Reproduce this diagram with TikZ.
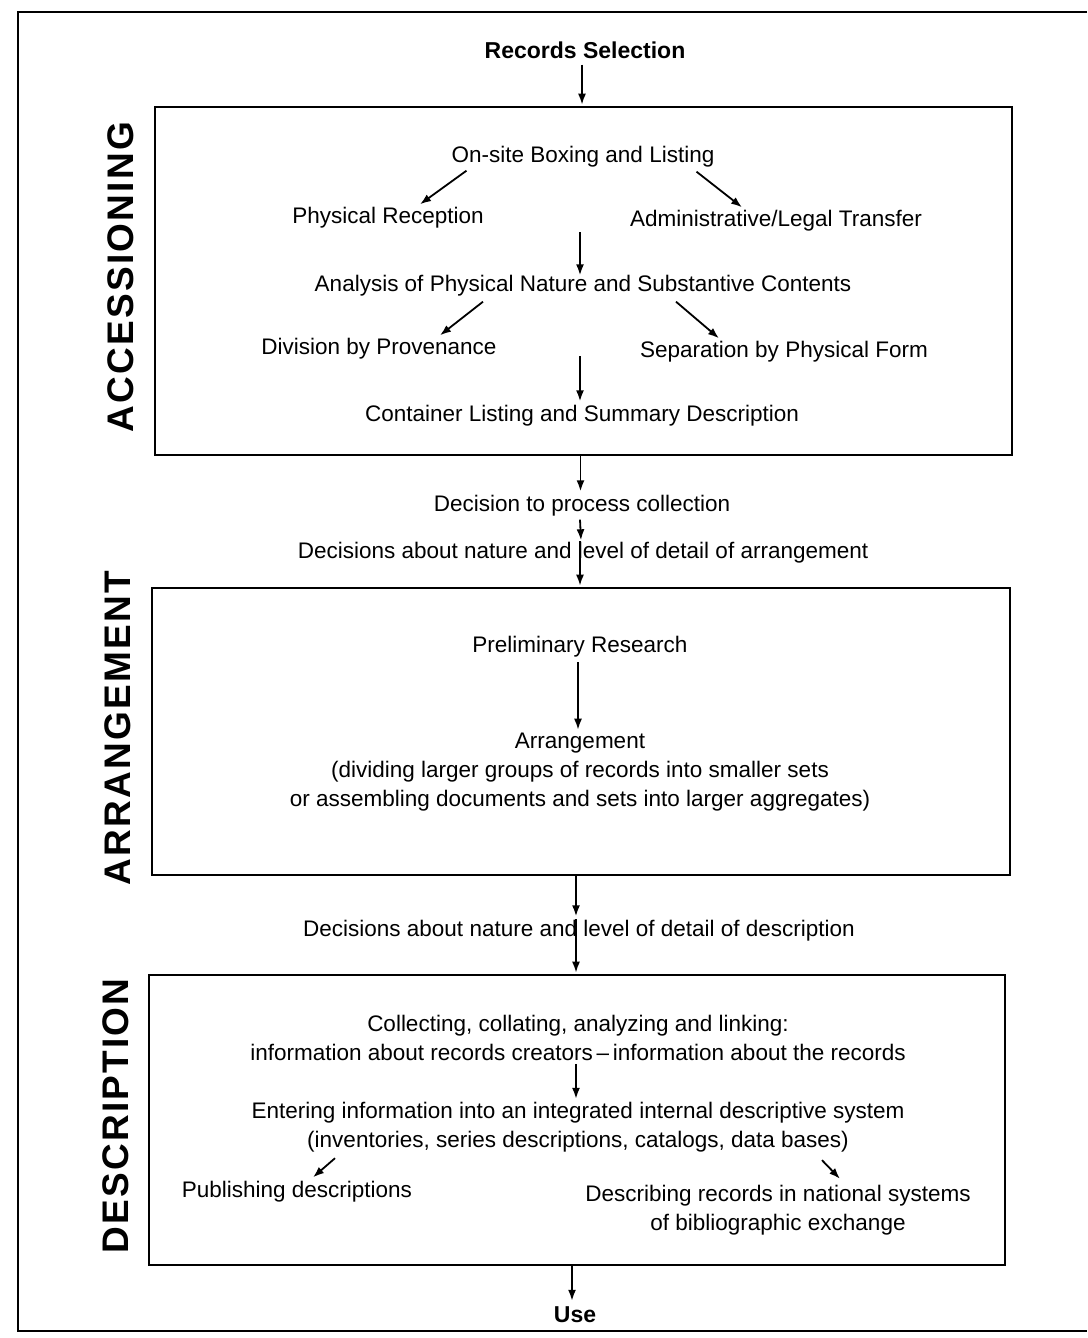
\documentclass[tikz,border=0pt]{standalone}
\usepackage{fontspec}
\setmainfont{Liberation Sans}
\usetikzlibrary{arrows.meta,calc}
\begin{document}
\begin{tikzpicture}[x=1pt,y=-1pt,
  txt/.style={font=\fontsize{22.5}{29}\selectfont, inner sep=0pt, align=center},
  ttl/.style={font=\fontsize{23}{27}\selectfont\bfseries, inner sep=0pt},
  side/.style={rotate=90, font=\fontsize{37}{37}\selectfont\bfseries\addfontfeatures{LetterSpace=6}, inner sep=0pt},
  stagebox/.style={draw, line width=2.6pt, inner sep=0pt},
  arr/.style={-{Latex[length=11pt,width=8pt]}, line width=1.8pt}]
\useasboundingbox (0,0) rectangle (1087,1338);
% outer frame
\draw[line width=2pt] (1087,12) -- (18,12) -- (18,1331) -- (1087,1331);

% stage boxes
\node[stagebox, minimum width=857, minimum height=348] (acc) at (583.5,281) {};
\node[stagebox, minimum width=858, minimum height=287] (arb) at (581,731.5) {};
\node[stagebox, minimum width=856, minimum height=290] (deb) at (577,1120) {};

% side labels
\node[side] (lacc) at (121,277) {ACCESSIONING};
\node[side] (larr) at (118,728) {ARRANGEMENT};
\node[side] (ldes) at (116,1116) {DESCRIPTION};

% texts
\node[ttl] (rs) at (585,50) {Records Selection};
\node[txt] (onsite) at (583,157) {On-site Boxing and Listing};
\node[txt] (pr) at (388,218) {Physical Reception};
\node[txt] (alt) at (776,221) {Administrative/Legal Transfer};
\node[txt] (ana) at (583,286) {Analysis of Physical Nature and Substantive Contents};
\node[txt] (div) at (379,349) {Division by Provenance};
\node[txt] (sep) at (784,352) {Separation by Physical Form};
\node[txt] (cont) at (582,416) {Container Listing and Summary Description};
\node[txt] (dec) at (582,506) {Decision to process collection};
\node[txt] (decarr) at (583,553) {Decisions about nature and level of detail of arrangement};
\node[txt] (prel) at (580,647) {Preliminary Research};
\node[txt] (arrg) at (580,772) {Arrangement\\(dividing larger groups of records into smaller sets\\or assembling documents and sets into larger aggregates)};
\node[txt] (decdes) at (579,931) {Decisions about nature and level of detail of description};
\node[txt] (coll) at (578,1038) {Collecting, collating, analyzing and linking:\\information about records creators\,--\,information about the records};
\node[txt] (ent) at (578,1127) {Entering information into an integrated internal descriptive system\\(inventories, series descriptions, catalogs, data bases)};
\node[txt] (pub) at (297,1192) {Publishing descriptions};
\node[txt] (dsc) at (778,1210) {Describing records in national systems\\of bibliographic exchange};
\node[ttl] (use) at (575,1315) {Use};

\coordinate (m1) at (580,232);
\coordinate (m2) at (580,356);

% helper coordinates on node borders
\coordinate (a1) at ($(rs.south)+(-3,6)$);
\coordinate (a1e) at (a1 |- acc.north);
\coordinate (a2) at ($(decarr.north)+(-3,-1)$);
\coordinate (a2e) at (a2 |- arb.north);
\coordinate (a3) at ($(decdes.north)+(-3,-1)$);
\coordinate (a3e) at (a3 |- deb.north);
\coordinate (a4) at ($(acc.south)+(-3,0)$);
\coordinate (a5) at ($(arb.south)+(-5,0)$);
\coordinate (a6) at ($(deb.south)+(-5,0)$);
\coordinate (p1) at (578,662);
\coordinate (p1e) at (p1 |- arrg.north);

% connectors
\draw[arr] (a1) -- ($(a1e)+(0,-1)$);
\draw[arr] ($(onsite.south west)+(15,3)$) -- ($(pr.north)+(32,-3)$);
\draw[arr] ($(onsite.south east)+(-18,4)$) -- ($(alt.north)+(-34,-3)$);
\draw[arr] (m1) -- (m1 |- ana.north);
\draw[arr] ($(ana.south)+(-100,5)$) -- ($(div.north)+(61,-3)$);
\draw[arr] ($(ana.south)+(93,5)$) -- ($(sep.north)+(-65,-3)$);
\draw[arr] (m2) -- ($(m2 |- cont.north)+(0,-4)$);
\draw[arr] (a4) -- ($(a4 |- dec.north)+(0,-4)$);
\draw[arr] ($(dec.south)+(-2,3)$) -- ($(decarr.north)+(-2,-2)$);
\draw[arr] (a2) -- ($(a2e)+(0,-1)$);
\draw[arr] (p1) -- ($(p1e)+(0,-3)$);
\draw[arr] (a5) -- ($(a5 |- decdes.north)+(0,-4)$);
\draw[arr] (a3) -- ($(a3e)+(0,-1)$);
\draw[arr] ($(coll.south)+(-2,3)$) -- ($(ent.north)+(-2,-3)$);
\draw[arr] ($(ent.south)+(-243,6)$) -- ($(pub.north)+(16,-4)$);
\draw[arr] ($(ent.south)+(244,8)$) -- ($(dsc.north)+(62,-6)$);
\draw[arr] (a6) -- ($(a6 |- use.north)+(0,-6)$);
\end{tikzpicture}
\end{document}
